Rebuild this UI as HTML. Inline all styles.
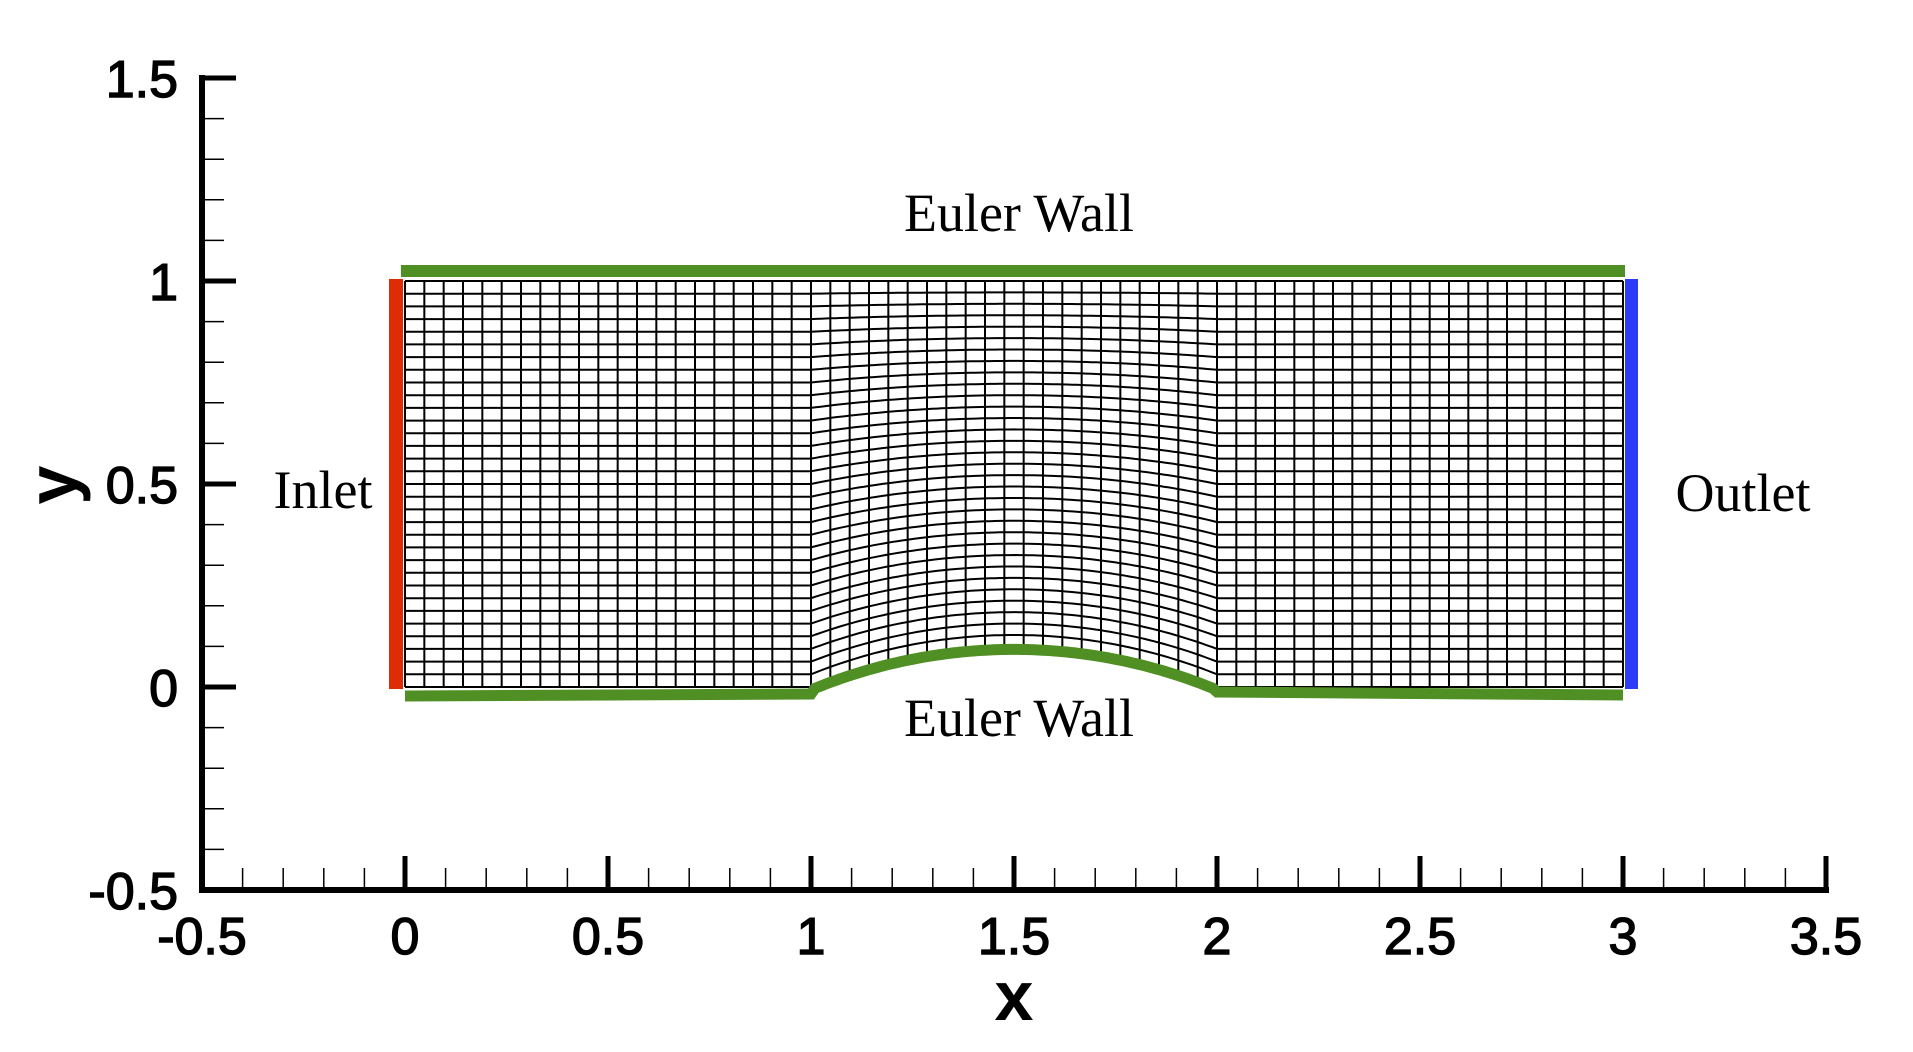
<!DOCTYPE html>
<html><head><meta charset="utf-8"><style>
html,body{margin:0;padding:0;background:#fff;}
svg{display:block;}
.tick{font-family:"Liberation Sans",sans-serif;font-size:52px;fill:#000;stroke:#000;stroke-width:1.4px;}
.lbl{font-family:"Liberation Serif",serif;font-size:54px;fill:#000;}
.title{font-family:"Liberation Sans",sans-serif;font-size:70px;font-weight:bold;fill:#000;}
</style></head><body>
<svg id="chart" width="1913" height="1052" viewBox="0 0 1913 1052" xmlns="http://www.w3.org/2000/svg"></svg>
<script>
const xTicks = [-0.5, 0, 0.5, 1, 1.5, 2, 2.5, 3, 3.5];
const xTickLabels = ["-0.5","0","0.5","1","1.5","2","2.5","3","3.5"];
const yTicks = [-0.5, 0, 0.5, 1, 1.5];
const yTickLabels = ["-0.5","0","0.5","1","1.5"];
const domainX = [0, 3];
const domainY = [0, 1];
const bumpRange = [1, 2];
const bumpHeight = [0.1];
const colsPerUnit = [21];
const rowCount = [32];

const X0 = 202, Y0 = 890, S = 406;
function px(x){ return X0 + (x + 0.5) * S; }
function py(y){ return Y0 - (y + 0.5) * S; }
function bump(x){
  if (x <= bumpRange[0] || x >= bumpRange[1]) return 0;
  const h = bumpHeight[0], c = (bumpRange[0] + bumpRange[1]) / 2, half = (bumpRange[1] - bumpRange[0]) / 2;
  const R = (half*half + h*h) / (2*h);
  return Math.sqrt(R*R - (x-c)*(x-c)) - (R - h);
}
const svgEl = document.getElementById('chart');
const NS = 'http://www.w3.org/2000/svg';
function mk(tag, attrs, parent){
  const e = document.createElementNS(NS, tag);
  for (const k in attrs) e.setAttribute(k, attrs[k]);
  (parent || svgEl).appendChild(e);
  return e;
}

// mesh
const mesh = mk('g', {stroke:'#000', 'stroke-width':'2', fill:'none'});


const nc = colsPerUnit[0] * (domainX[1] - domainX[0]);
const nr = rowCount[0];
for (let j = 0; j <= nr; j++) {
  let d = '';
  for (let i = 0; i <= nc*4; i++) {
    const x = domainX[0] + (domainX[1]-domainX[0]) * i / (nc*4);
    const b = bump(x);
    const y = b + (domainY[1] - b) * j / nr;
    d += (i ? 'L' : 'M') + px(x).toFixed(1) + ' ' + py(y).toFixed(1);
  }
  const p = mk('path', {d:d}, mesh);
  
  
}
for (let i = 0; i <= nc; i++) {
  const x = domainX[0] + (domainX[1]-domainX[0]) * i / nc;
  const l = mk('line', {x1:px(x), y1:py(bump(x)), x2:px(x), y2:py(domainY[1])}, mesh);
  
  
}

// boundaries
const G = '#4f8f23';
const topWall = mk('line', {x1:px(-0.01), y1:py(1)-10, x2:px(3.005), y2:py(1)-10, stroke:G, 'stroke-width':12});


let bd = 'M' + px(0) + ' ' + (py(0)+9);
bd += 'L' + px(1) + ' ' + (py(0)+7);
for (let k = 1; k < 100; k++) {
  const x = 1 + k / 100;
  bd += 'L' + px(x).toFixed(1) + ' ' + (py(bump(x)) + 3).toFixed(1);
}
bd += 'L' + px(2) + ' ' + (py(0)+5) + 'L' + px(3) + ' ' + (py(0)+8);
const botWall = mk('path', {d:bd, stroke:G, 'stroke-width':11, fill:'none'});


const inl = mk('rect', {x:px(0)-16, y:py(1)-2, width:14, height:py(0)-py(1)+4, fill:'#dd2c06'});


const outl = mk('rect', {x:px(3)+2, y:py(1)-2, width:13, height:py(0)-py(1)+4, fill:'#2a3cf5'});



// axes
const ax = mk('g', {stroke:'#000'});


mk('line', {x1:X0, y1:py(1.5)-3, x2:X0, y2:Y0+3, 'stroke-width':6}, ax);
mk('line', {x1:X0-3, y1:Y0, x2:px(3.5)+3, y2:Y0, 'stroke-width':6}, ax);
for (let n = 0; n <= 40; n++) {
  const v = -0.5 + n * 0.1;
  const major = n % 5 === 0;
  const t = mk('line', {x1:px(v), y1:Y0, x2:px(v), y2:Y0 - (major ? 34 : 22), 'stroke-width': major ? 5 : 1.5}, ax);
  
  
}
for (let n = 0; n <= 20; n++) {
  const v = -0.5 + n * 0.1;
  const major = n % 5 === 0;
  const t = mk('line', {x1:X0, y1:py(v), x2:X0 + (major ? 34 : 22), y2:py(v), 'stroke-width': major ? 5 : 1.5}, ax);
  
  
}
xTicks.forEach(function(v, i){
  const t = mk('text', {x:px(v), y:Y0+64, 'text-anchor':'middle', class:'tick'});
  t.textContent = xTickLabels[i];
  
  
});
yTicks.forEach(function(v, i){
  const t = mk('text', {x:178, y:py(v)+19, 'text-anchor':'end', class:'tick'});
  t.textContent = yTickLabels[i];
  
  
});
const xt = mk('text', {x:px(1.5), y:1020, 'text-anchor':'middle', class:'title'});
xt.textContent = 'x';


const yt = mk('text', {x:0, y:0, 'text-anchor':'middle', class:'title', transform:'translate(76,485) rotate(-90)'});
yt.textContent = 'y';



// annotations
const ann = [
  ['Euler Wall', 1019, 231, 'top-wall-label'],
  ['Euler Wall', 1019, 736, 'bottom-wall-label'],
  ['Inlet', 323, 508, 'inlet-label'],
  ['Outlet', 1743, 511, 'outlet-label']
];
ann.forEach(function(a){
  const t = mk('text', {x:a[1], y:a[2], 'text-anchor':'middle', class:'lbl'});
  t.textContent = a[0];
  
  
});
</script>
</body></html>
